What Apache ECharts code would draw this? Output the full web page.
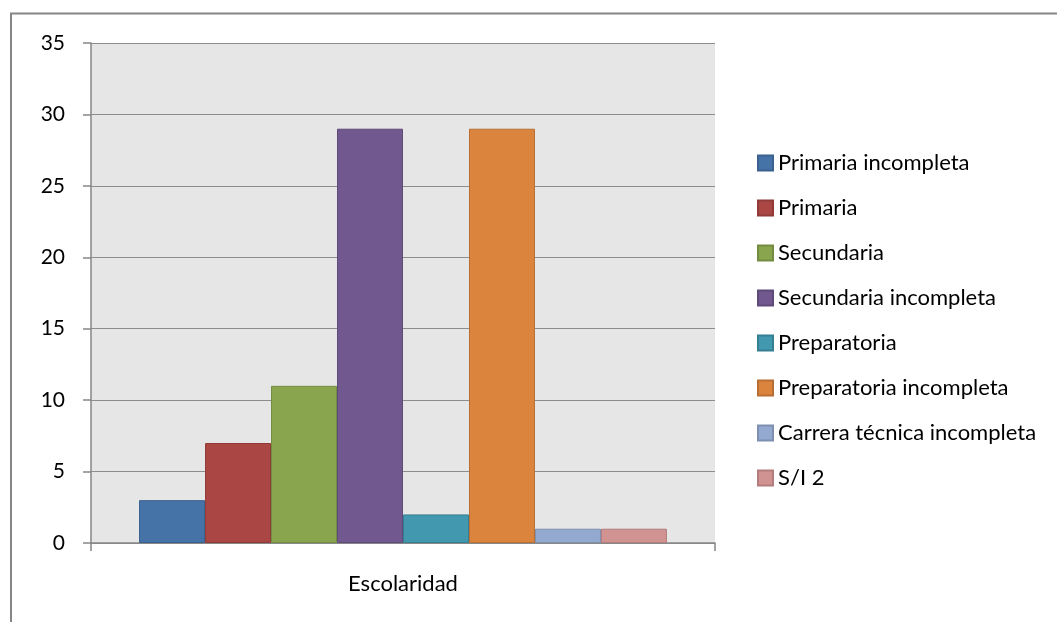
<!DOCTYPE html>
<html>
<head>
<meta charset="utf-8">
<script src="https://cdn.jsdelivr.net/npm/echarts@6/dist/echarts.min.js"></script>
<style>html,body{margin:0;padding:0;background:#fff}#c{width:1057px;height:622px}</style>
</head>
<body>
<div id="c"></div>
<script>
const categories = ['Escolaridad'];
const seriesNames = ['Primaria incompleta','Primaria','Secundaria','Secundaria incompleta','Preparatoria','Preparatoria incompleta','Carrera técnica incompleta','S/I 2'];
const seriesValues = [3, 7, 11, 29, 2, 29, 1, 1];
const yTicks = [0, 5, 10, 15, 20, 25, 30, 35];
const fillColors = ['#4572a7','#aa4643','#89a54e','#71588f','#4198af','#db843d','#93a9cf','#d19392'];
const edgeColors = ['#3a6190','#913b38','#748c41','#5f4a79','#357f93','#b96f33','#7d90b0','#b27d7c'];

const chart = echarts.init(document.getElementById('c'));
const font = 'Lato, "Open Sans", sans-serif';
chart.setOption({
  animation: false,
  textStyle: {fontFamily: font},
  graphic: [{
    type: 'rect', silent: true, z: -10,
    shape: {x: 11, y: 13.5, width: 1100, height: 700},
    style: {fill: 'none', stroke: '#868686', lineWidth: 2}
  }],
  grid: {left: 91, right: 342, top: 43, bottom: 79, show: true, backgroundColor: '#e6e6e6', borderWidth: 0},
  legend: {
    orient: 'vertical', left: 757, top: 152, padding: 0,
    itemWidth: 15, itemHeight: 15, itemGap: 23,
    icon: 'rect',
    textStyle: {fontFamily: font, fontSize: 22, color: '#000', lineHeight: 22},
    data: seriesNames
  },
  xAxis: {
    type: 'category', data: categories,
    axisLine: {lineStyle: {color: '#868686', width: 1.5}},
    axisTick: {show: true, length: 8, lineStyle: {color: '#868686', width: 1.5}},
    axisLabel: {color: '#000', fontSize: 22, margin: 30, fontFamily: font}
  },
  yAxis: {
    type: 'value', min: yTicks[0], max: yTicks[yTicks.length-1], interval: 5,
    axisLine: {show: true, lineStyle: {color: '#868686', width: 1.5}},
    axisTick: {show: true, length: 8, lineStyle: {color: '#868686', width: 1.5}},
    axisLabel: {color: '#000', fontSize: 21, margin: 26, fontFamily: font},
    splitLine: {show: true, lineStyle: {color: '#8c8c8c', width: 1.2}}
  },
  series: seriesNames.map((n, i) => ({
    name: n, type: 'bar', data: [seriesValues[i]],
    barGap: '0%', barCategoryGap: '15.4%',
    itemStyle: {color: fillColors[i], borderColor: edgeColors[i], borderWidth: 1}
  }))
});
</script>
</body>
</html>
